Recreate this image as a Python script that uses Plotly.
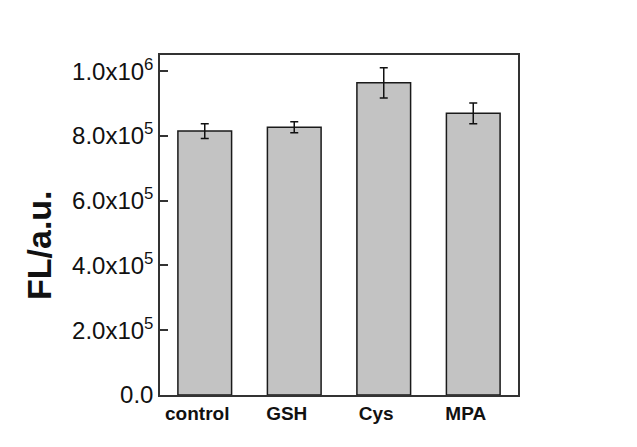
import plotly.graph_objects as go

categories = ["control", "GSH", "Cys", "MPA"]
values = [8.15e5, 8.27e5, 9.64e5, 8.70e5]
errors = [2.3e4, 1.7e4, 4.7e4, 3.2e4]
ytick_vals = [0, 2e5, 4e5, 6e5, 8e5, 1e6]
ytick_text = ["0.0", "2.0x10<sup>5</sup>", "4.0x10<sup>5</sup>", "6.0x10<sup>5</sup>",
              "8.0x10<sup>5</sup>", "1.0x10<sup>6</sup>"]

W, H = 637, 447
L, R, T, B = 152, 127, 47, 60
LABEL_SHIFT = 0.084  # x tick labels sit slightly left of bar centres in the reference

positions = list(range(len(categories)))

fig = go.Figure()
fig.add_trace(go.Bar(
    x=positions, y=values, width=0.6,
    marker=dict(color="#c3c3c3", line=dict(color="#1a1a1a", width=1.5)),
    error_y=dict(type="data", array=errors, visible=True, color="#111111",
                 thickness=1.5, width=4),
))

fig.update_layout(
    width=W, height=H,
    margin=dict(l=L, r=R, t=T, b=B, pad=0),
    paper_bgcolor="white", plot_bgcolor="white",
    showlegend=False,
    font=dict(family="Liberation Sans, Arial, sans-serif", color="#111111"),
    xaxis=dict(
        range=[-0.5, 3.5], tickvals=[p - LABEL_SHIFT for p in positions],
        ticktext=["<b>%s</b>" % c for c in categories],
        tickfont=dict(size=19, family="Liberation Sans, Arial, sans-serif", color="#111111"),
        showline=True, linecolor="#333333", linewidth=1.5, mirror=True,
        ticks="", showgrid=False, zeroline=False,
    ),
    yaxis=dict(
        range=[0, 1.05e6], tickvals=ytick_vals, ticktext=ytick_text,
        tickfont=dict(size=24, family="Liberation Sans, Arial, sans-serif", color="#111111"),
        showline=True, linecolor="#333333", linewidth=1.5, mirror=True,
        ticks="inside", ticklen=8, tickwidth=1.5, tickcolor="#333333",
        showgrid=False, zeroline=False,
    ),
    annotations=[dict(
        text="<b>FL/a.u.</b>", textangle=-90, showarrow=False,
        xref="paper", yref="paper",
        x=(31 - L) / (W - L - R), y=(H - B - 237) / (H - T - B),
        xanchor="center", yanchor="middle",
        font=dict(size=34, family="Liberation Sans, Arial, sans-serif", color="#111111"),
    )],
)

fig.write_html("out.html")
